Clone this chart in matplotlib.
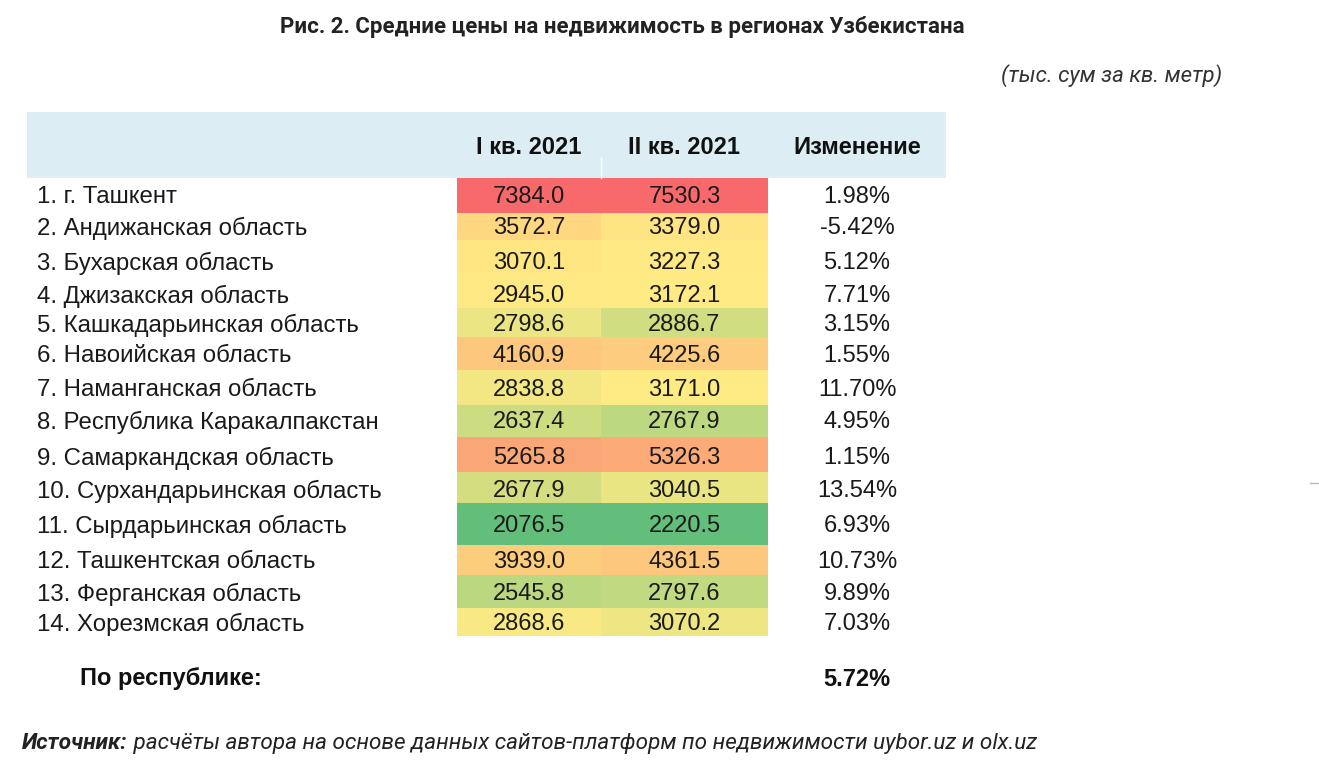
# Средние цены на недвижимость по регионам (таблица-теплокарта)

import numpy as np
import matplotlib.pyplot as plt
from matplotlib.colors import LinearSegmentedColormap, TwoSlopeNorm
from matplotlib.patches import Rectangle

regions = ['1. г. Ташкент', '2. Андижанская область', '3. Бухарская область',
           '4. Джизакская область', '5. Кашкадарьинская область', '6. Навоийская область',
           '7. Наманганская область', '8. Республика Каракалпакстан', '9. Самаркандская область',
           '10. Сурхандарьинская область', '11. Сырдарьинская область', '12. Ташкентская область',
           '13. Ферганская область', '14. Хорезмская область']
q1 = [7384.0, 3572.7, 3070.1, 2945.0, 2798.6, 4160.9, 2838.8,
      2637.4, 5265.8, 2677.9, 2076.5, 3939.0, 2545.8, 2868.6]
q2 = [7530.3, 3379.0, 3227.3, 3172.1, 2886.7, 4225.6, 3171.0,
      2767.9, 5326.3, 3040.5, 2220.5, 4361.5, 2797.6, 3070.2]
change = ['1.98%', '-5.42%', '5.12%', '7.71%', '3.15%', '1.55%', '11.70%',
          '4.95%', '1.15%', '13.54%', '6.93%', '10.73%', '9.89%', '7.03%']
headers = ['I кв. 2021', 'II кв. 2021', 'Изменение']
total_label = 'По республике:'
total_change = '5.72%'

title = 'Рис. 2. Средние цены на недвижимость в регионах Узбекистана'
unit = '(тыс. сум за кв. метр)'
source_bold = 'Источник:'
source_text = ' расчёты автора на основе данных сайтов-платформ по недвижимости uybor.uz и olx.uz'

# раскладка (в пикселях)
row_edges = [178, 213, 240, 273, 308, 337, 370, 405, 437, 472, 503, 545, 575, 608, 636]
row_y = [197, 228, 263, 296, 325, 356, 390, 422, 458, 491, 526, 562, 594, 624]
col_edges = [457, 601, 768]
change_x = 857

plt.rcParams['font.family'] = ['Liberation Sans', 'DejaVu Sans']
roboto = ['Roboto', 'DejaVu Sans']

cmap = LinearSegmentedColormap.from_list('ryg', ['#63BE7B', '#FFEB84', '#F8696B'])

fig = plt.figure(figsize=(13.19, 7.78), dpi=100)
ax = fig.add_axes([0, 0, 1, 1])
ax.set_xlim(0, 1319)
ax.set_ylim(778, 0)
ax.axis('off')

ax.text(622, 27, title, ha='center', va='center', fontsize=16, fontweight='bold',
        family=roboto, color='#222222')
ax.text(1222, 76, unit, ha='right', va='center', fontsize=16, style='italic',
        family=roboto, color='#333333')

# шапка
ax.add_patch(Rectangle((27, 112), 946 - 27, 178 - 112, facecolor='#DCEEF4', edgecolor='none'))
ax.plot([601, 601], [158, 178], color='white', lw=1)
head_x = [(col_edges[0] + col_edges[1]) / 2, (col_edges[1] + col_edges[2]) / 2, change_x]
for hx, h in zip(head_x, headers):
    ax.text(hx, 147, h, ha='center', va='center', fontsize=17, fontweight='bold', color='#111111')

# ячейки
for c, vals in enumerate([q1, q2]):
    vals = np.array(vals)
    norm = TwoSlopeNorm(vmin=vals.min(), vcenter=np.median(vals), vmax=vals.max())
    x0, x1 = col_edges[c], col_edges[c + 1]
    for i, v in enumerate(vals):
        y0, y1 = row_edges[i], row_edges[i + 1]
        ax.add_patch(Rectangle((x0, y0), x1 - x0, y1 - y0, facecolor=cmap(norm(v)),
                               edgecolor='none'))
        ax.text((x0 + x1) / 2, row_y[i], f'{v:.1f}', ha='center', va='center',
                fontsize=17, color='#1a1a1a')

for i, name in enumerate(regions):
    ax.text(37, row_y[i], name, ha='left', va='center', fontsize=17.3, color='#1a1a1a')
    ax.text(change_x, row_y[i], change[i], ha='center', va='center', fontsize=17, color='#1a1a1a')

ax.text(80, 679, total_label, ha='left', va='center', fontsize=17, fontweight='bold', color='#111111')
ax.text(change_x, 679, total_change, ha='center', va='center', fontsize=17, fontweight='bold',
        color='#111111')

# источник
t = ax.text(22, 743, source_bold, ha='left', va='center', fontsize=16.2, fontweight='bold',
            style='italic', family=roboto, color='#222222')
fig.canvas.draw()
bb = t.get_window_extent()
src_x = ax.transData.inverted().transform((bb.x1, 0))[0]
ax.text(src_x, 743, source_text, ha='left', va='center', fontsize=16.2, style='italic',
        family=roboto, color='#222222')

ax.plot([1310, 1318], [483, 483], color='#bbbbbb', lw=1)

fig.savefig('out.png', dpi=100)
